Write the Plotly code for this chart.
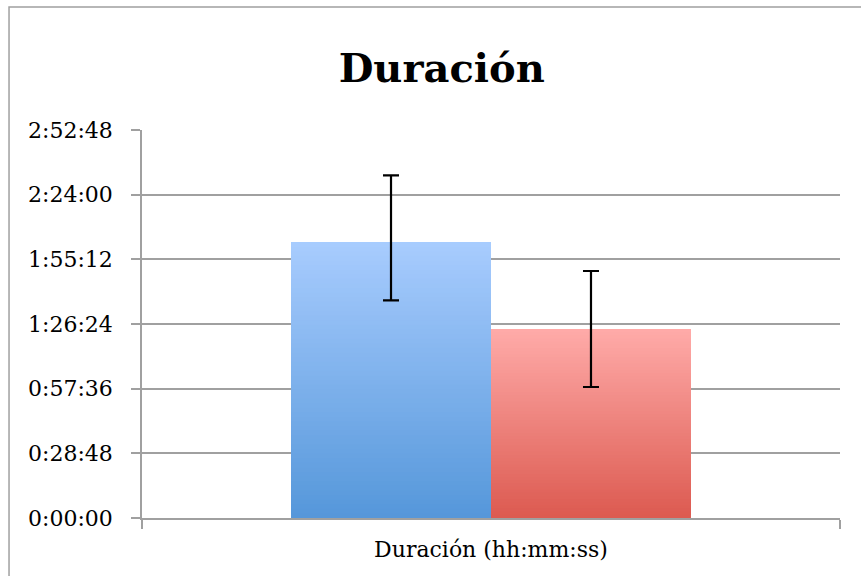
import plotly.graph_objects as go

# Data (durations in seconds)
categories = ["Duración (hh:mm:ss)"]
series_names = ["Grupo A", "Grupo B"]
mean_seconds = [7374, 5050]
err_plus_seconds = [1784, 1550]
err_minus_seconds = [1559, 1550]
tick_seconds = [0, 1728, 3456, 5184, 6912, 8640, 10368]
tick_labels = ["0:00:00", "0:28:48", "0:57:36", "1:26:24", "1:55:12", "2:24:00", "2:52:48"]

# Gradient colours (bottom -> top) for each bar
grad_bottom = [(85, 151, 218), (220, 90, 80)]
grad_top = [(168, 204, 254), (255, 171, 169)]

N_SEG = 60
FONT = "DejaVu Serif"


def lerp(c1, c2, t):
    return "rgb({},{},{})".format(*[round(a + (b - a) * t) for a, b in zip(c1, c2)])


fig = go.Figure()

for i, name in enumerate(series_names):
    v = mean_seconds[i]
    step = v / N_SEG
    # overlapping slices so no seams show; the topmost slice ends exactly at v
    heights = [min(step * 3, v - step * k) for k in range(N_SEG)]
    fig.add_trace(go.Bar(
        x=categories * N_SEG,
        y=heights,
        base=[step * k for k in range(N_SEG)],
        marker=dict(color=[lerp(grad_bottom[i], grad_top[i], (k + 0.5) / N_SEG) for k in range(N_SEG)],
                    line=dict(width=0)),
        offsetgroup=str(i),
        name=name,
        showlegend=False,
        hoverinfo="skip",
    ))
    # full-height transparent bar carrying the error bar
    fig.add_trace(go.Bar(
        x=categories,
        y=[v],
        marker=dict(color="rgba(0,0,0,0)", line=dict(width=0)),
        offsetgroup=str(i),
        name=name,
        showlegend=False,
        error_y=dict(type="data", symmetric=False,
                     array=[err_plus_seconds[i]], arrayminus=[err_minus_seconds[i]],
                     color="black", thickness=2.2, width=8),
    ))

fig.update_layout(
    width=861, height=576,
    margin=dict(l=142, r=21, t=130, b=58),
    paper_bgcolor="white", plot_bgcolor="white",
    barmode="group", bargap=0.427, bargroupgap=0,
    font=dict(family=FONT, color="black"),
    title=dict(text="<b>Duración</b>", x=0.513, xanchor="center", y=0.882, yanchor="middle",
               font=dict(family=FONT, size=40, color="black")),
    showlegend=False,
    xaxis=dict(
        type="category", showgrid=False, showline=True, linecolor="#A0A0A0", linewidth=1.5,
        ticks="outside", tickson="boundaries", ticklen=9, tickcolor="#A0A0A0", tickwidth=1.5,
        tickfont=dict(family=FONT, size=22, color="black"), ticklabelstandoff=11,
    ),
    yaxis=dict(
        range=[0, 10368], tickvals=tick_seconds, ticktext=tick_labels,
        showgrid=True, gridcolor="#A0A0A0", gridwidth=1.5,
        showline=True, linecolor="#A0A0A0", linewidth=1.5,
        ticks="outside", ticklen=9, tickcolor="#A0A0A0", tickwidth=1.5,
        tickfont=dict(family=FONT, size=22, color="black"), ticklabelstandoff=14,
        zeroline=False,
    ),
    shapes=[dict(type="rect", xref="paper", yref="paper",
                 x0=-0.1905, y0=-0.3, x1=1.2, y1=1.317,
                 line=dict(color="#A0A0A0", width=1.5), fillcolor="rgba(0,0,0,0)", layer="below")],
)

fig.write_html("out.html")
